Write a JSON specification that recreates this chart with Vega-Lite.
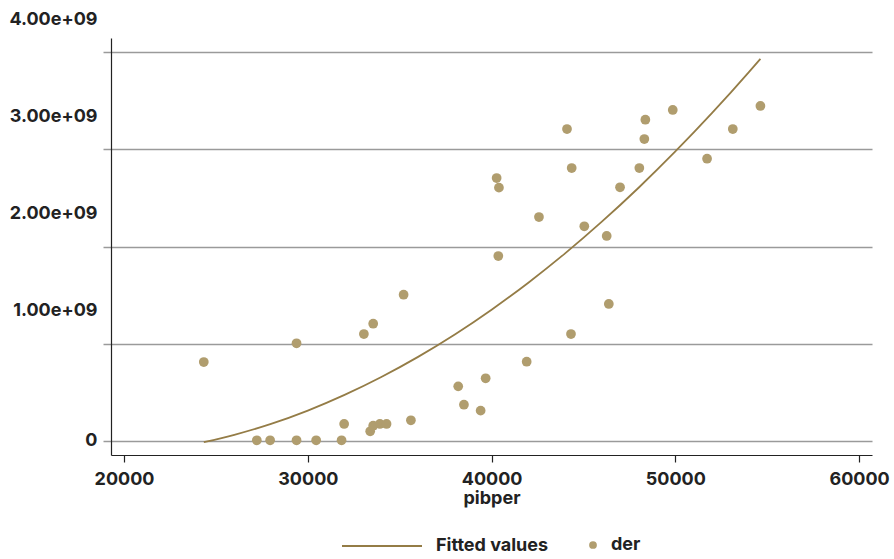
{
  "$schema": "https://vega.github.io/schema/vega-lite/v6.json",
  "width": 761,
  "height": 417,
  "autosize": "none",
  "padding": {"left": 111, "top": 38, "right": 22, "bottom": 104},
  "background": "white",
  "config": {
    "view": {"stroke": null},
    "font": "Inter",
    "axis": {"labelFont": "Inter", "titleFont": "Inter", "labelColor": "#222222", "titleColor": "#222222"},
    "legend": {"labelFont": "Inter"}
  },
  "datasets": {
    "pts": [
      {"pibper": 24339, "der": 812000000},
      {"pibper": 27225, "der": 7000000},
      {"pibper": 27949, "der": 7000000},
      {"pibper": 29386, "der": 7000000},
      {"pibper": 30454, "der": 7000000},
      {"pibper": 31836, "der": 7000000},
      {"pibper": 31977, "der": 175000000},
      {"pibper": 33394, "der": 100000000},
      {"pibper": 33557, "der": 157000000},
      {"pibper": 33921, "der": 175000000},
      {"pibper": 34284, "der": 175000000},
      {"pibper": 35609, "der": 213000000},
      {"pibper": 29386, "der": 1005000000},
      {"pibper": 33051, "der": 1100000000},
      {"pibper": 33557, "der": 1206000000},
      {"pibper": 35212, "der": 1504000000},
      {"pibper": 38184, "der": 562000000},
      {"pibper": 38495, "der": 373000000},
      {"pibper": 39404, "der": 312000000},
      {"pibper": 39677, "der": 645000000},
      {"pibper": 41909, "der": 815000000},
      {"pibper": 44103, "der": 3208000000},
      {"pibper": 44358, "der": 2807000000},
      {"pibper": 40275, "der": 2704000000},
      {"pibper": 40400, "der": 2605000000},
      {"pibper": 42578, "der": 2303000000},
      {"pibper": 45045, "der": 2208000000},
      {"pibper": 40365, "der": 1902000000},
      {"pibper": 48367, "der": 3304000000},
      {"pibper": 49858, "der": 3404000000},
      {"pibper": 48312, "der": 3105000000},
      {"pibper": 48040, "der": 2807000000},
      {"pibper": 46989, "der": 2609000000},
      {"pibper": 46263, "der": 2108000000},
      {"pibper": 51725, "der": 2903000000},
      {"pibper": 53125, "der": 3208000000},
      {"pibper": 54628, "der": 3445000000},
      {"pibper": 46379, "der": 1409000000},
      {"pibper": 44320, "der": 1100000000}
    ],
    "fit": [
      {"pibper": 24339, "fitted": -12000000},
      {"pibper": 26000, "fitted": 64000000},
      {"pibper": 28000, "fitted": 176000000},
      {"pibper": 30000, "fitted": 313000000},
      {"pibper": 32000, "fitted": 474000000},
      {"pibper": 34000, "fitted": 658000000},
      {"pibper": 36000, "fitted": 865000000},
      {"pibper": 38000, "fitted": 1095000000},
      {"pibper": 40000, "fitted": 1350000000},
      {"pibper": 42000, "fitted": 1628000000},
      {"pibper": 44000, "fitted": 1929000000},
      {"pibper": 46000, "fitted": 2255000000},
      {"pibper": 48000, "fitted": 2604000000},
      {"pibper": 50000, "fitted": 2977000000},
      {"pibper": 52000, "fitted": 3373000000},
      {"pibper": 54000, "fitted": 3793000000},
      {"pibper": 54628, "fitted": 3930000000}
    ]
  },
  "layer": [
    {
      "data": {"name": "fit"},
      "mark": {"type": "line", "strokeWidth": 1.8, "interpolate": "monotone"},
      "encoding": {
        "x": {
          "field": "pibper", "type": "quantitative",
          "scale": {"domain": [19290, 60700], "nice": false, "zero": false},
          "axis": {
            "values": [20000, 30000, 40000, 50000, 60000],
            "format": "d",
            "title": "pibper",
            "grid": false,
            "labelFontSize": 18, "labelFontWeight": 700,
            "titleFontSize": 18, "titleFontWeight": 700,
            "labelFlush": false, "labelOverlap": false,
            "tickSize": 7, "tickColor": "#222222", "tickWidth": 1.2,
            "domainColor": "#222222", "domainWidth": 1.2,
            "labelPadding": 8, "titlePadding": 1
          }
        },
        "y": {
          "field": "fitted", "type": "quantitative",
          "scale": {"domain": [-144000000, 4144000000], "nice": false, "zero": false},
          "axis": {
            "values": [0, 1000000000, 2000000000, 3000000000, 4000000000],
            "labelExpr": "datum.value == 0 ? '0' : format(datum.value / 1e9, '.2f') + 'e+09'",
            "title": null,
            "grid": true, "gridColor": "#9a9a9a", "gridWidth": 1.5,
            "labelFontSize": 18, "labelFontWeight": 700,
            "labelFlush": false, "labelOverlap": false,
            "labelOffset": {"condition": {"test": "datum.value == 0", "value": 0}, "value": -33},
            "tickSize": 8, "tickColor": "#9a9a9a", "tickWidth": 1.5,
            "domainColor": "#222222", "domainWidth": 1.2,
            "labelPadding": 6
          }
        },
        "color": {
          "datum": "Fitted values", "type": "nominal",
          "scale": {"range": ["#947c46"]},
          "legend": {
            "orient": "none", "legendX": 230, "legendY": 467,
            "title": null,
            "symbolSize": 6400, "symbolStrokeWidth": 1.8, "symbolType": "stroke",
            "labelFontSize": 18, "labelFontWeight": 700, "labelColor": "#222222",
            "labelOffset": 13
          }
        }
      }
    },
    {
      "data": {"name": "pts"},
      "mark": {"type": "point", "filled": true, "size": 95, "color": "#b09d6e", "opacity": 1},
      "encoding": {
        "x": {"field": "pibper", "type": "quantitative"},
        "y": {"field": "der", "type": "quantitative"},
        "shape": {
          "datum": "der", "type": "nominal",
          "scale": {"range": ["circle"]},
          "legend": {
            "orient": "none", "legendX": 473, "legendY": 498,
            "title": null,
            "symbolSize": 60, "symbolFillColor": "#b09d6e", "symbolStrokeColor": "#b09d6e", "symbolStrokeWidth": 0,
            "labelFontSize": 18, "labelFontWeight": 700, "labelColor": "#222222",
            "labelOffset": 9
          }
        }
      }
    }
  ]
}
